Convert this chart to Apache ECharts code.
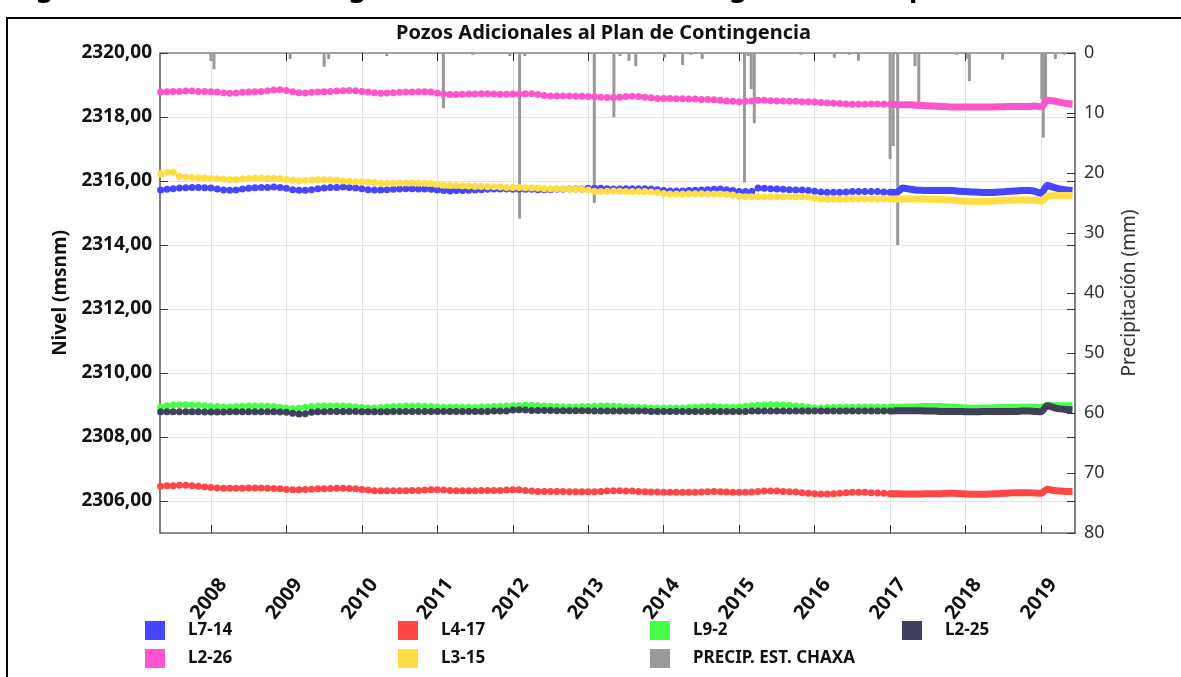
<!DOCTYPE html>
<html lang="es">
<head>
<meta charset="UTF-8">
<title>Pozos Adicionales al Plan de Contingencia</title>
<script src="https://cdn.jsdelivr.net/npm/echarts@6/dist/echarts.min.js"></script>
<style>
    html, body { margin: 0; padding: 0; background: #fff; }
    #main { width: 1181px; height: 677px; }
</style>
</head>
<body>
<div id="main"></div>
<script>
// monthly readings, first one May 2007, last one June 2019
var startYear = 2007, startMonth = 5, nMonths = 146;
var denseFrom = 116; // Jan 2017: from here the reference draws a dense (daily) trace

var L7_14 = [
    2315.72, 2315.74, 2315.76, 2315.78, 2315.79, 2315.80, 2315.80, 2315.79,
    2315.78, 2315.75, 2315.72, 2315.71, 2315.72, 2315.75, 2315.77, 2315.79, 2315.80, 2315.80, 2315.81, 2315.80,
    2315.77, 2315.73, 2315.71, 2315.71, 2315.73, 2315.76, 2315.78, 2315.80, 2315.80, 2315.81, 2315.80, 2315.78,
    2315.76, 2315.73, 2315.72, 2315.72, 2315.73, 2315.74, 2315.75, 2315.76, 2315.76, 2315.75, 2315.75, 2315.74,
    2315.72, 2315.70, 2315.69, 2315.70, 2315.70, 2315.71, 2315.72, 2315.73, 2315.74, 2315.75, 2315.75, 2315.75,
    2315.74, 2315.74, 2315.74, 2315.74, 2315.73, 2315.73, 2315.73, 2315.74, 2315.74, 2315.75, 2315.75, 2315.75,
    2315.77, 2315.77, 2315.77, 2315.76, 2315.75, 2315.75, 2315.76, 2315.76, 2315.76, 2315.76, 2315.75, 2315.73,
    2315.70, 2315.69, 2315.69, 2315.69, 2315.70, 2315.71, 2315.72, 2315.73, 2315.74, 2315.75, 2315.73, 2315.70,
    2315.67, 2315.67, 2315.67, 2315.78, 2315.77, 2315.76, 2315.75, 2315.74, 2315.73, 2315.72, 2315.72, 2315.70,
    2315.68, 2315.66, 2315.65, 2315.65, 2315.65, 2315.66, 2315.67, 2315.67, 2315.67, 2315.67, 2315.67, 2315.66,
    2315.65, 2315.64, 2315.78, 2315.75, 2315.72, 2315.71, 2315.70, 2315.70, 2315.70, 2315.70, 2315.70, 2315.68,
    2315.67, 2315.66, 2315.65, 2315.64, 2315.64, 2315.65, 2315.66, 2315.68, 2315.69, 2315.70, 2315.70, 2315.68,
    2315.62, 2315.86, 2315.80, 2315.75, 2315.72, 2315.70
];
var L4_17 = [
    2306.46, 2306.48, 2306.48, 2306.49, 2306.49, 2306.48, 2306.46, 2306.44,
    2306.42, 2306.41, 2306.40, 2306.40, 2306.40, 2306.40, 2306.41, 2306.41, 2306.41, 2306.40, 2306.39, 2306.38,
    2306.36, 2306.35, 2306.35, 2306.36, 2306.37, 2306.38, 2306.38, 2306.39, 2306.40, 2306.40, 2306.39, 2306.38,
    2306.36, 2306.34, 2306.32, 2306.32, 2306.32, 2306.32, 2306.32, 2306.32, 2306.33, 2306.33, 2306.34, 2306.35,
    2306.35, 2306.34, 2306.33, 2306.32, 2306.32, 2306.32, 2306.32, 2306.33, 2306.33, 2306.33, 2306.33, 2306.34,
    2306.35, 2306.35, 2306.33, 2306.31, 2306.30, 2306.30, 2306.30, 2306.30, 2306.30, 2306.29, 2306.29, 2306.29,
    2306.29, 2306.29, 2306.30, 2306.31, 2306.32, 2306.32, 2306.31, 2306.31, 2306.30, 2306.29, 2306.28, 2306.28,
    2306.27, 2306.27, 2306.27, 2306.27, 2306.27, 2306.27, 2306.28, 2306.29, 2306.30, 2306.29, 2306.28, 2306.27,
    2306.27, 2306.27, 2306.28, 2306.30, 2306.31, 2306.31, 2306.31, 2306.30, 2306.29, 2306.28, 2306.26, 2306.24,
    2306.23, 2306.22, 2306.22, 2306.23, 2306.24, 2306.26, 2306.27, 2306.27, 2306.27, 2306.26, 2306.25, 2306.24,
    2306.23, 2306.23, 2306.22, 2306.22, 2306.22, 2306.22, 2306.23, 2306.23, 2306.23, 2306.24, 2306.24, 2306.23,
    2306.22, 2306.21, 2306.21, 2306.21, 2306.22, 2306.23, 2306.24, 2306.25, 2306.26, 2306.26, 2306.26, 2306.25,
    2306.24, 2306.37, 2306.33, 2306.31, 2306.30, 2306.30
];
var L9_2 = [
    2308.94, 2308.98, 2309.00, 2309.01, 2309.01, 2309.00, 2308.99, 2308.98,
    2308.96, 2308.95, 2308.94, 2308.94, 2308.95, 2308.96, 2308.97, 2308.97, 2308.97, 2308.96, 2308.95, 2308.93,
    2308.91, 2308.89, 2308.90, 2308.93, 2308.95, 2308.96, 2308.97, 2308.97, 2308.97, 2308.97, 2308.96, 2308.94,
    2308.92, 2308.91, 2308.91, 2308.92, 2308.94, 2308.95, 2308.96, 2308.97, 2308.97, 2308.97, 2308.96, 2308.95,
    2308.94, 2308.93, 2308.93, 2308.93, 2308.93, 2308.93, 2308.93, 2308.94, 2308.94, 2308.95, 2308.96, 2308.97,
    2308.98, 2308.98, 2308.99, 2308.99, 2308.98, 2308.97, 2308.96, 2308.95, 2308.94, 2308.94, 2308.94, 2308.95,
    2308.95, 2308.96, 2308.97, 2308.97, 2308.96, 2308.95, 2308.94, 2308.93, 2308.92, 2308.92, 2308.91, 2308.91,
    2308.91, 2308.91, 2308.91, 2308.91, 2308.92, 2308.93, 2308.94, 2308.95, 2308.95, 2308.94, 2308.93, 2308.93,
    2308.94, 2308.96, 2308.98, 2308.99, 2309.00, 2309.01, 2309.01, 2309.00, 2308.99, 2308.97, 2308.95, 2308.93,
    2308.91, 2308.91, 2308.92, 2308.93, 2308.93, 2308.93, 2308.93, 2308.93, 2308.94, 2308.94, 2308.94, 2308.94,
    2308.93, 2308.93, 2308.93, 2308.94, 2308.94, 2308.95, 2308.95, 2308.95, 2308.95, 2308.94, 2308.93, 2308.92,
    2308.91, 2308.90, 2308.90, 2308.91, 2308.91, 2308.92, 2308.92, 2308.93, 2308.93, 2308.93, 2308.93, 2308.93,
    2308.92, 2308.99, 2308.98, 2308.98, 2308.98, 2308.98
];
var L2_25 = [
    2308.79, 2308.79, 2308.79, 2308.79, 2308.79, 2308.79, 2308.79, 2308.78,
    2308.78, 2308.78, 2308.78, 2308.79, 2308.79, 2308.79, 2308.79, 2308.79, 2308.79, 2308.79, 2308.79, 2308.78,
    2308.77, 2308.74, 2308.72, 2308.73, 2308.77, 2308.79, 2308.79, 2308.80, 2308.80, 2308.80, 2308.80, 2308.80,
    2308.79, 2308.79, 2308.79, 2308.79, 2308.79, 2308.80, 2308.80, 2308.80, 2308.80, 2308.80, 2308.80, 2308.80,
    2308.80, 2308.80, 2308.80, 2308.80, 2308.80, 2308.80, 2308.80, 2308.80, 2308.80, 2308.81, 2308.81, 2308.81,
    2308.84, 2308.85, 2308.84, 2308.83, 2308.83, 2308.83, 2308.83, 2308.82, 2308.82, 2308.82, 2308.82, 2308.82,
    2308.82, 2308.81, 2308.81, 2308.81, 2308.81, 2308.81, 2308.81, 2308.81, 2308.81, 2308.81, 2308.80, 2308.80,
    2308.80, 2308.80, 2308.80, 2308.80, 2308.80, 2308.80, 2308.80, 2308.80, 2308.80, 2308.80, 2308.80, 2308.80,
    2308.80, 2308.80, 2308.81, 2308.81, 2308.81, 2308.81, 2308.81, 2308.81, 2308.81, 2308.81, 2308.81, 2308.81,
    2308.81, 2308.81, 2308.81, 2308.81, 2308.81, 2308.81, 2308.81, 2308.81, 2308.81, 2308.81, 2308.81, 2308.81,
    2308.81, 2308.82, 2308.82, 2308.82, 2308.82, 2308.82, 2308.81, 2308.81, 2308.80, 2308.80, 2308.80, 2308.80,
    2308.79, 2308.79, 2308.79, 2308.80, 2308.80, 2308.80, 2308.80, 2308.80, 2308.80, 2308.81, 2308.81, 2308.80,
    2308.79, 2308.98, 2308.92, 2308.88, 2308.86, 2308.85
];
var L2_26 = [
    2318.78, 2318.79, 2318.80, 2318.80, 2318.81, 2318.81, 2318.80, 2318.80,
    2318.79, 2318.78, 2318.76, 2318.74, 2318.75, 2318.77, 2318.78, 2318.79, 2318.80, 2318.82, 2318.84, 2318.85,
    2318.83, 2318.79, 2318.76, 2318.75, 2318.77, 2318.78, 2318.79, 2318.80, 2318.81, 2318.82, 2318.83, 2318.82,
    2318.80, 2318.78, 2318.76, 2318.74, 2318.75, 2318.76, 2318.77, 2318.78, 2318.78, 2318.79, 2318.79, 2318.78,
    2318.75, 2318.72, 2318.70, 2318.70, 2318.71, 2318.72, 2318.72, 2318.73, 2318.73, 2318.72, 2318.71, 2318.71,
    2318.72, 2318.72, 2318.73, 2318.73, 2318.70, 2318.67, 2318.66, 2318.66, 2318.66, 2318.66, 2318.65, 2318.65,
    2318.64, 2318.63, 2318.62, 2318.61, 2318.61, 2318.62, 2318.64, 2318.65, 2318.64, 2318.62, 2318.60, 2318.58,
    2318.58, 2318.58, 2318.57, 2318.57, 2318.56, 2318.56, 2318.55, 2318.55, 2318.54, 2318.52, 2318.50, 2318.49,
    2318.48, 2318.49, 2318.50, 2318.52, 2318.52, 2318.51, 2318.50, 2318.50, 2318.49, 2318.49, 2318.48, 2318.48,
    2318.47, 2318.45, 2318.44, 2318.43, 2318.42, 2318.41, 2318.40, 2318.40, 2318.40, 2318.41, 2318.41, 2318.40,
    2318.40, 2318.39, 2318.38, 2318.38, 2318.37, 2318.36, 2318.35, 2318.34, 2318.33, 2318.32, 2318.31, 2318.31,
    2318.31, 2318.31, 2318.31, 2318.31, 2318.31, 2318.32, 2318.32, 2318.33, 2318.33, 2318.33, 2318.33, 2318.34,
    2318.32, 2318.52, 2318.50, 2318.46, 2318.42, 2318.40
];
var L3_15 = [
    2316.22, 2316.27, 2316.27, 2316.14, 2316.12, 2316.11, 2316.10, 2316.09,
    2316.08, 2316.07, 2316.06, 2316.05, 2316.05, 2316.06, 2316.08, 2316.09, 2316.09, 2316.08, 2316.08, 2316.07,
    2316.05, 2316.02, 2316.01, 2316.02, 2316.03, 2316.04, 2316.04, 2316.03, 2316.02, 2316.00, 2315.99, 2315.98,
    2315.98, 2315.97, 2315.95, 2315.93, 2315.93, 2315.93, 2315.94, 2315.94, 2315.94, 2315.93, 2315.93, 2315.92,
    2315.90, 2315.87, 2315.86, 2315.86, 2315.85, 2315.84, 2315.83, 2315.83, 2315.82, 2315.82, 2315.81, 2315.80,
    2315.80, 2315.80, 2315.79, 2315.78, 2315.77, 2315.76, 2315.75, 2315.75, 2315.75, 2315.74, 2315.74, 2315.74,
    2315.72, 2315.68, 2315.67, 2315.68, 2315.69, 2315.68, 2315.67, 2315.67, 2315.67, 2315.67, 2315.66, 2315.64,
    2315.61, 2315.59, 2315.59, 2315.59, 2315.60, 2315.60, 2315.60, 2315.59, 2315.59, 2315.59, 2315.58, 2315.56,
    2315.52, 2315.51, 2315.51, 2315.51, 2315.51, 2315.51, 2315.51, 2315.51, 2315.51, 2315.51, 2315.51, 2315.50,
    2315.47, 2315.44, 2315.43, 2315.43, 2315.43, 2315.43, 2315.44, 2315.44, 2315.44, 2315.44, 2315.44, 2315.44,
    2315.44, 2315.44, 2315.44, 2315.44, 2315.44, 2315.44, 2315.43, 2315.43, 2315.42, 2315.41, 2315.40, 2315.38,
    2315.37, 2315.36, 2315.36, 2315.36, 2315.37, 2315.38, 2315.39, 2315.40, 2315.41, 2315.41, 2315.40, 2315.40,
    2315.37, 2315.52, 2315.54, 2315.55, 2315.55, 2315.55
];

// Precipitacion estacion Chaxa (mm), dates as decimal years
var precipYears = [
    2008.00, 2008.04, 2009.05, 2009.50, 2009.56, 2010.33, 2011.08,
    2011.47, 2011.96, 2012.09, 2012.16, 2013.08, 2013.34, 2013.42,
    2013.54, 2013.63, 2014.01, 2014.25, 2014.36, 2014.51, 2015.07,
    2015.12, 2015.16, 2015.20, 2015.82, 2016.26, 2016.46, 2016.58,
    2017.00, 2017.04, 2017.10, 2017.33, 2017.38, 2017.88, 2018.03,
    2018.05, 2018.49, 2019.01, 2019.03, 2019.06, 2019.19, 2019.31
];
var precipMm = [
    1.3, 2.7, 1.0, 2.3, 1.0, 0.5, 9.2,
    0.3, 0.5, 27.6, 0.5, 25.0, 10.7, 0.5,
    1.3, 2.2, 0.8, 2.0, 0.3, 1.0, 21.6,
    0.5, 6.0, 11.7, 0.3, 0.8, 0.3, 1.3,
    17.7, 15.5, 32.0, 2.2, 8.6, 0.3, 1.0,
    4.7, 1.1, 7.7, 14.1, 7.7, 1.0, 0.3
];

var years = [2008, 2009, 2010, 2011, 2012, 2013, 2014, 2015, 2016, 2017, 2018, 2019];
var levelTicks = [2306, 2308, 2310, 2312, 2314, 2316, 2318, 2320];
var xMin = 2007.325, xMax = 2019.45;
var labelShift = 0.16; // year labels sit a little right of their ticks

var wells = [
    { name: 'L7-14', values: L7_14, color: '#4646ff' },
    { name: 'L4-17', values: L4_17, color: '#ff4646' },
    { name: 'L9-2',  values: L9_2,  color: '#46ff46' },
    { name: 'L2-25', values: L2_25, color: '#40405e' },
    { name: 'L2-26', values: L2_26, color: '#ff55cc' },
    { name: 'L3-15', values: L3_15, color: '#ffdd44' }
];
var precipName = 'PRECIP. EST. CHAXA';
var precipColor = '#999999';

// month of each reading as a decimal year
var months = [];
for (var i = 0; i < nMonths; i++) {
    months.push(startYear + (startMonth - 1 + i) / 12);
}

var FONT = 'Noto Sans';

var series = [];
wells.forEach(function (w) {
    var pts = months.map(function (d, i) { return [d, w.values[i]]; });
    series.push({
        name: w.name,
        type: 'line',
        xAxisIndex: 0,
        yAxisIndex: 0,
        data: pts.slice(0, denseFrom + 1),
        symbol: 'circle',
        symbolSize: 7,
        color: w.color,
        itemStyle: { color: w.color },
        lineStyle: { color: w.color, width: 2 }
    });
    series.push({
        name: w.name,
        type: 'line',
        xAxisIndex: 0,
        yAxisIndex: 0,
        data: pts.slice(denseFrom),
        showSymbol: false,
        smooth: 0.3,
        color: w.color,
        itemStyle: { color: w.color },
        lineStyle: { color: w.color, width: 7 }
    });
});
series.push({
    name: precipName,
    type: 'bar',
    xAxisIndex: 0,
    yAxisIndex: 1,
    barWidth: 3,
    color: precipColor,
    itemStyle: { color: precipColor },
    data: precipYears.map(function (d, i) { return [d, precipMm[i]]; })
});

function legendCol(left, names) {
    return {
        left: left,
        top: 616,
        orient: 'vertical',
        icon: 'rect',
        itemWidth: 20,
        itemHeight: 19,
        itemGap: 9,
        selectedMode: false,
        data: names,
        textStyle: {
            fontFamily: FONT, fontWeight: 'bold', fontSize: 17, color: '#111',
            padding: [0, 0, 0, 18]
        }
    };
}

var chart = echarts.init(document.getElementById('main'));
chart.setOption({
    animation: false,
    backgroundColor: '#fff',
    textStyle: { fontFamily: FONT },
    grid: { left: 160, right: 106, top: 53, bottom: 144 },
    graphic: [
        {
            // heading line of the page, cut off at the top edge
            type: 'text', x: 12, y: -26,
            style: {
                text: 'Figura 4-30: Niveles de agua subterránea (msnm) registrados en pozos adicionales al Plan de Contingencia',
                font: 'bold 28px "Noto Sans"', fill: '#000'
            }
        },
        {
            type: 'rect', shape: { x: 7, y: 18, width: 1200, height: 700 },
            style: { fill: 'none', stroke: '#000', lineWidth: 2 }
        },
        {
            type: 'text', left: 396, top: 23,
            style: {
                text: 'Pozos Adicionales al Plan de Contingencia',
                font: 'bold 20px "Noto Sans"', fill: '#111'
            }
        }
    ],
    legend: [
        legendCol(140, ['L7-14', 'L2-26']),
        legendCol(393, ['L4-17', 'L3-15']),
        legendCol(645, ['L9-2', precipName]),
        legendCol(897, ['L2-25'])
    ],
    xAxis: [
        {
            type: 'value',
            position: 'bottom',
            min: xMin,
            max: xMax,
            axisLine: { onZero: false, lineStyle: { color: '#666', width: 1.5 } },
            axisTick: { inside: true, length: 8, customValues: years, lineStyle: { color: '#333' } },
            axisLabel: { show: false },
            splitLine: { show: true, lineStyle: { color: '#e2e2e2' } }
        },
        {
            type: 'value',
            position: 'top',
            min: xMin,
            max: xMax,
            axisLine: { show: true, onZero: false, lineStyle: { color: '#888', width: 1.5 } },
            axisTick: { inside: true, length: 8, customValues: years, lineStyle: { color: '#333' } },
            axisLabel: { show: false },
            splitLine: { show: false }
        },
        {
            // labels only
            type: 'value',
            position: 'bottom',
            min: xMin - labelShift,
            max: xMax - labelShift,
            axisLine: { show: false, onZero: false },
            axisTick: { show: false },
            axisLabel: {
                customValues: years,
                formatter: function (v) { return String(Math.round(v)); },
                rotate: 52,
                margin: 48,
                fontFamily: FONT, fontWeight: 'bold', fontSize: 20, color: '#111'
            },
            splitLine: { show: false }
        }
    ],
    yAxis: [
        {
            type: 'value',
            position: 'left',
            min: 2305,
            max: 2320,
            name: 'Nivel (msnm)',
            nameLocation: 'middle',
            nameGap: 88,
            nameTextStyle: { fontFamily: FONT, fontWeight: 'bold', fontSize: 19, color: '#111' },
            axisLine: { show: true, onZero: false, lineStyle: { color: '#555', width: 1.5 } },
            axisTick: { show: true, inside: true, length: 8, customValues: levelTicks, lineStyle: { color: '#333' } },
            axisLabel: {
                customValues: levelTicks,
                formatter: function (v) { return v.toFixed(2).replace('.', ','); },
                margin: 8,
                fontFamily: FONT, fontWeight: 'bold', fontSize: 19, color: '#111'
            },
            splitLine: { show: true, lineStyle: { color: '#e2e2e2' } }
        },
        {
            type: 'value',
            position: 'right',
            min: 0,
            max: 80,
            interval: 10,
            inverse: true,
            name: 'Precipitación (mm)',
            nameLocation: 'middle',
            nameGap: 45,
            nameTextStyle: { fontFamily: FONT, fontSize: 19, color: '#333' },
            axisLine: { show: true, onZero: false, lineStyle: { color: '#555', width: 1.5 } },
            axisTick: { show: true, inside: true, length: 8, lineStyle: { color: '#333' } },
            axisLabel: { margin: 9, fontFamily: FONT, fontSize: 18, color: '#333' },
            splitLine: { show: false }
        },
        {
            type: 'value',
            position: 'right',
            min: 2305,
            max: 2320,
            axisLine: { show: false },
            axisTick: { show: true, inside: true, length: 8, customValues: levelTicks, lineStyle: { color: '#333' } },
            axisLabel: { show: false },
            splitLine: { show: false }
        }
    ],
    series: series
});
</script>
</body>
</html>
